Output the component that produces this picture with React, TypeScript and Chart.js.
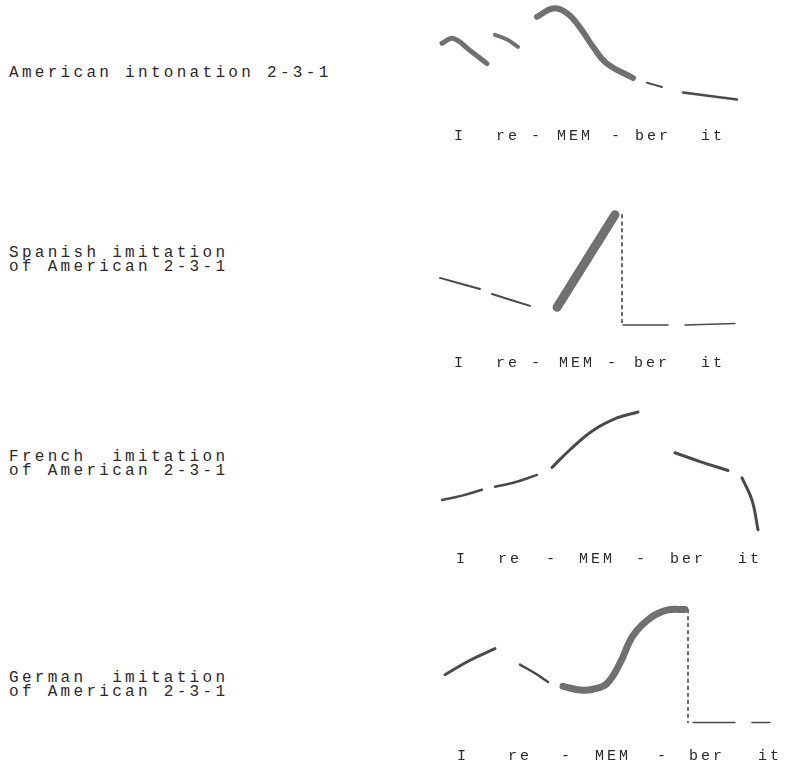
import React, { useEffect, useRef } from "react";
import { Chart, registerables } from "chart.js";

Chart.register(...registerables);

// Syllables of the utterance "I re-MEM-ber it"
const SYLLABLES = ["I", "re", "-", "MEM", "-", "ber", "it"];

// Time position (arbitrary units) of each syllable label, per speaker
const AMERICAN_SYLLABLE_TIME = [30, 78, 107, 145, 187, 223, 283];
const SPANISH_SYLLABLE_TIME = [30, 78, 107, 147, 183, 222, 283];
const FRENCH_SYLLABLE_TIME = [32, 80, 122, 167, 212, 258, 320];
const GERMAN_SYLLABLE_TIME = [33, 90, 137, 183, 233, 277, 340];

// Pitch contours: [time, relative pitch 0-100]
const AMERICAN_I = [[12, 64], [23, 68], [40, 58], [57, 47]];
const AMERICAN_RE = [[65, 71], [77, 67], [88, 61]];
const AMERICAN_MEM = [[107, 86], [123, 93], [137, 89], [150, 77], [163, 61], [177, 47], [203, 35]];
const AMERICAN_BER = [[217, 31], [232, 27.5]];
const AMERICAN_IT = [[253, 23], [280, 20], [307, 17]];

const SPANISH_I = [[10, 47], [50, 39.5]];
const SPANISH_RE = [[62, 36], [100, 28]];
const SPANISH_MEM = [[127, 27], [185, 90]];
const SPANISH_DROP = [[192, 90], [192, 15]];
const SPANISH_BER = [[193, 15], [238, 15]];
const SPANISH_IT = [[255, 15], [305, 16]];

const FRENCH_I = [[12, 29], [32, 32], [52, 36]];
const FRENCH_RE = [[65, 38], [85, 41], [107, 46]];
const FRENCH_MEM = [[122, 51], [140, 63], [163, 76], [187, 84.5], [208, 88.5]];
const FRENCH_BER = [[245, 61], [270, 55], [298, 49]];
const FRENCH_IT = [[312, 44], [322, 29], [328, 9]];

const GERMAN_I = [[15, 45], [40, 55], [65, 63]];
const GERMAN_RE = [[90, 52], [105, 46], [118, 40]];
const GERMAN_MEM = [[133, 37], [150, 34.5], [163, 35], [177, 39], [190, 53], [203, 72], [220, 84], [237, 89.5], [255, 90]];
const GERMAN_DROP = [[258, 90], [258, 12]];
const GERMAN_BER = [[263, 12], [305, 12]];
const GERMAN_IT = [[322, 12], [340, 12]];

const MONO = '"Liberation Mono", "DejaVu Sans Mono", monospace';
const INK = "#2a2a2a";

type Seg = { pts: number[][]; width: number; color: string; dash?: number[] };

function Panel({ top, height, times, segs }: { top: number; height: number; times: number[]; segs: Seg[] }) {
  const ref = useRef<HTMLCanvasElement | null>(null);
  useEffect(() => {
    if (!ref.current) return;
    const chart = new Chart(ref.current, {
      type: "line",
      data: {
        datasets: segs.map((s) => ({
          data: s.pts.map(([x, y]) => ({ x, y })),
          borderColor: s.color,
          borderWidth: s.width,
          borderDash: s.dash || [],
          borderCapStyle: "round",
          tension: 0.4,
          pointRadius: 0,
          fill: false,
        })),
      },
      options: {
        animation: false,
        responsive: false,
        maintainAspectRatio: false,
        layout: { padding: 0 },
        plugins: { legend: { display: false }, tooltip: { enabled: false } },
        scales: {
          x: {
            type: "linear",
            min: 0,
            max: 359,
            grid: { display: false, drawTicks: false },
            border: { display: false },
            afterBuildTicks: (axis: any) => {
              axis.ticks = times.map((v) => ({ value: v }));
            },
            ticks: {
              autoSkip: false,
              maxRotation: 0,
              minRotation: 0,
              padding: 7,
              color: INK,
              font: { family: MONO, size: 15 },
              callback: (v: any) => SYLLABLES[times.indexOf(Number(v))] ?? "",
            },
          },
          y: { display: false, min: 0, max: 100 },
        },
      },
      plugins: [
        {
          id: "spacing",
          beforeDraw: (c: any) => {
            c.ctx.letterSpacing = "3px";
          },
        },
      ],
    } as any);
    return () => chart.destroy();
  }, []);
  return (
    <canvas
      ref={ref}
      width={359}
      height={height}
      style={{ position: "absolute", left: 430, top, width: 359, height }}
    />
  );
}

const labelStyle: React.CSSProperties = {
  position: "absolute",
  left: 9,
  fontFamily: MONO,
  fontSize: 16,
  letterSpacing: "3.3px",
  lineHeight: "14px",
  whiteSpace: "pre",
  color: INK,
};

const THICK = "#707070";
const MED = "#4a4a4a";
const THIN = "#3a3a3a";

export default function App() {
  return (
    <div style={{ position: "absolute", left: 0, top: 0, width: 789, height: 769, background: "#fff", overflow: "hidden" }}>
      <div style={{ ...labelStyle, top: 66 }}>American intonation 2-3-1</div>
      <div style={{ ...labelStyle, top: 246 }}>{"Spanish imitation\nof American 2-3-1"}</div>
      <div style={{ ...labelStyle, top: 450 }}>{"French  imitation\nof American 2-3-1"}</div>
      <div style={{ ...labelStyle, top: 671 }}>{"German  imitation\nof American 2-3-1"}</div>

      <Panel
        top={0}
        height={152}
        times={AMERICAN_SYLLABLE_TIME}
        segs={[
          { pts: AMERICAN_I, width: 5, color: THICK },
          { pts: AMERICAN_RE, width: 4, color: THICK },
          { pts: AMERICAN_MEM, width: 6, color: THICK },
          { pts: AMERICAN_BER, width: 2, color: MED },
          { pts: AMERICAN_IT, width: 2.5, color: MED },
        ]}
      />
      <Panel
        top={200}
        height={179}
        times={SPANISH_SYLLABLE_TIME}
        segs={[
          { pts: SPANISH_I, width: 2, color: MED },
          { pts: SPANISH_RE, width: 2, color: MED },
          { pts: SPANISH_MEM, width: 9, color: THICK },
          { pts: SPANISH_DROP, width: 1.5, color: THIN, dash: [3, 4] },
          { pts: SPANISH_BER, width: 1.5, color: MED },
          { pts: SPANISH_IT, width: 1.5, color: MED },
        ]}
      />
      <Panel
        top={395}
        height={180}
        times={FRENCH_SYLLABLE_TIME}
        segs={[
          { pts: FRENCH_I, width: 2.5, color: MED },
          { pts: FRENCH_RE, width: 2.5, color: MED },
          { pts: FRENCH_MEM, width: 3, color: MED },
          { pts: FRENCH_BER, width: 3, color: MED },
          { pts: FRENCH_IT, width: 3, color: MED },
        ]}
      />
      <Panel
        top={595}
        height={177}
        times={GERMAN_SYLLABLE_TIME}
        segs={[
          { pts: GERMAN_I, width: 3, color: MED },
          { pts: GERMAN_RE, width: 2.5, color: MED },
          { pts: GERMAN_MEM, width: 7, color: THICK },
          { pts: GERMAN_DROP, width: 1.5, color: THIN, dash: [3, 4] },
          { pts: GERMAN_BER, width: 1.5, color: MED },
          { pts: GERMAN_IT, width: 1.5, color: MED },
        ]}
      />
    </div>
  );
}
